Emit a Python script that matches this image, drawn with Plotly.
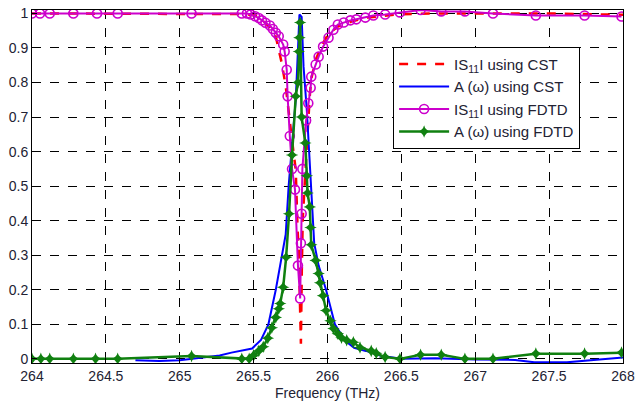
import plotly.graph_objects as go

# |S11| using CST (red dashed)
s11_cst_x = [264.0, 264.5, 265.0, 265.3, 265.45, 265.515, 265.556, 265.603, 265.65, 265.67, 265.69,
             265.717, 265.737, 265.758, 265.785, 265.79, 265.798, 265.805, 265.81, 265.816, 265.82,
             265.826, 265.832, 265.845, 265.855, 265.866, 265.88, 265.89, 265.92, 265.965, 266.005,
             266.07, 266.165, 266.27, 266.47, 266.7, 267.0, 267.5, 268.0]
s11_cst_y = [1.0, 1.0, 1.0, 1.0, 0.998, 0.994, 0.983, 0.962, 0.933, 0.895, 0.857,
             0.79, 0.71, 0.64, 0.547, 0.45, 0.37, 0.32, 0.197, 0.1, 0.044,
             0.25, 0.4, 0.5, 0.6, 0.66, 0.76, 0.81, 0.866, 0.91, 0.94,
             0.962, 0.977, 0.988, 0.997, 1.0, 1.0, 1.0, 0.996]

# A(omega) using CST (blue)
a_cst_x = [264.7, 264.86, 265.0, 265.13, 265.27, 265.35, 265.49, 265.55, 265.6, 265.65, 265.69,
           265.717, 265.737, 265.758, 265.785, 265.8, 265.81, 265.825, 265.838, 265.86, 265.872,
           265.886, 265.91, 265.94, 265.99, 266.05, 266.12, 266.18, 266.26, 266.36, 266.5, 266.73,
           267.0, 267.27, 267.4, 267.62, 267.85, 268.0]
a_cst_y = [-0.004, -0.006, -0.004, 0.003, 0.01, 0.018, 0.03, 0.055, 0.10, 0.2, 0.294,
           0.36, 0.5, 0.61, 0.75, 0.895, 0.997, 0.99, 0.846, 0.72, 0.625,
           0.5, 0.335, 0.27, 0.2, 0.1, 0.052, 0.032, 0.023, 0.009, 0.0, 0.002,
           -0.002, -0.003, -0.01, -0.01, -0.002, 0.004]

# |S11| using FDTD (magenta circles)
s11_fdtd_x = [264.0, 264.054, 264.12, 264.28, 264.44, 264.58, 265.08, 265.42, 265.455, 265.48,
              265.51, 265.535, 265.556, 265.58, 265.61, 265.63, 265.65, 265.67, 265.70, 265.71,
              265.724, 265.73, 265.745, 265.76, 265.78, 265.80, 265.815, 265.82, 265.825, 265.83,
              265.855, 265.87, 265.886, 265.89, 265.92, 265.94, 265.97, 266.007, 266.04, 266.07,
              266.11, 266.155, 266.195, 266.256, 266.31, 266.39, 266.49, 266.63, 266.77, 266.93,
              267.12, 267.41, 267.74, 267.99]
s11_fdtd_y = [1.0, 1.0, 1.0, 1.0, 1.0, 1.0, 1.0, 1.0, 1.0, 0.997,
              0.992, 0.987, 0.98, 0.973, 0.965, 0.955, 0.944, 0.934, 0.91, 0.89,
              0.837, 0.76, 0.645, 0.55, 0.49, 0.27, 0.175, 0.335, 0.42, 0.55,
              0.69, 0.74, 0.785, 0.817, 0.852, 0.875, 0.904, 0.93, 0.953, 0.968,
              0.974, 0.98, 0.983, 0.988, 0.994, 0.997, 1.003, 1.01, 1.006, 1.006,
              1.0, 0.994, 0.994, 0.991]

# A(omega) using FDTD (green stars)
a_fdtd_x = [264.0, 264.06, 264.12, 264.28, 264.43, 264.58, 265.08, 265.42, 265.47, 265.5,
            265.535, 265.565, 265.596, 265.623, 265.65, 265.67, 265.68, 265.70, 265.72, 265.74,
            265.76, 265.785, 265.80, 265.806, 265.81, 265.815, 265.825, 265.85, 265.86, 265.865,
            265.88, 265.885, 265.89, 265.92, 265.94, 265.95, 265.97, 265.99, 266.02, 266.04,
            266.07, 266.095, 266.13, 266.175, 266.22, 266.296, 266.33, 266.39, 266.49, 266.63,
            266.77, 266.93, 267.12, 267.41, 267.74, 267.99]
a_fdtd_y = [0.0, 0.0, 0.0, 0.0, 0.0, 0.0, 0.008, 0.0, 0.0, 0.01,
            0.023, 0.035, 0.06, 0.09, 0.12, 0.145, 0.16, 0.207, 0.294, 0.42,
            0.59, 0.76, 0.80, 0.89, 0.93, 0.974, 0.70, 0.625, 0.53, 0.48,
            0.44, 0.38, 0.33, 0.285, 0.247, 0.22, 0.183, 0.14, 0.11, 0.088,
            0.073, 0.061, 0.054, 0.048, 0.033, 0.023, 0.016, 0.005, 0.0, 0.012,
            0.012, 0.0, 0.0, 0.015, 0.015, 0.018]

x_ticks = [264, 264.5, 265, 265.5, 266, 266.5, 267, 267.5, 268]
x_tick_labels = ["264", "264.5", "265", "265.5", "266", "266.5", "267", "267.5", "268"]
y_ticks = [0, 0.1, 0.2, 0.3, 0.4, 0.5, 0.6, 0.7, 0.8, 0.9, 1]
y_tick_labels = ["0", "0.1", "0.2", "0.3", "0.4", "0.5", "0.6", "0.7", "0.8", "0.9", "1"]

fig = go.Figure()
fig.add_trace(go.Scatter(x=s11_cst_x, y=s11_cst_y, mode="lines",
                         name="IS<sub>11</sub>I using CST",
                         line=dict(color="#ff0000", width=2.5, dash="dash")))
fig.add_trace(go.Scatter(x=a_cst_x, y=a_cst_y, mode="lines",
                         name="A (\u03c9) using CST",
                         line=dict(color="#0000ff", width=2)))
fig.add_trace(go.Scatter(x=s11_fdtd_x, y=s11_fdtd_y, mode="lines+markers",
                         name="IS<sub>11</sub>I using FDTD",
                         line=dict(color="#cc00cc", width=2),
                         marker=dict(symbol="circle-open", size=9, color="#cc00cc",
                                     line=dict(width=1.6, color="#cc00cc"))))
fig.add_trace(go.Scatter(x=a_fdtd_x, y=a_fdtd_y, mode="lines+markers",
                         name="A (\u03c9) using FDTD",
                         line=dict(color="#108010", width=2.5),
                         marker=dict(symbol="star-diamond", size=9, color="#108010",
                                     line=dict(width=0))))

axis_common = dict(showline=True, linecolor="black", linewidth=1, mirror=True,
                   ticks="inside", ticklen=5, tickcolor="black", automargin=False,
                   ticklabeloverflow="allow",
                   showgrid=True, gridcolor="black", gridwidth=1, griddash="dash",
                   zeroline=False, tickfont=dict(family="Liberation Sans, Arial", size=14, color="#222233"))

fig.update_xaxes(range=[264, 268], tickvals=x_ticks, ticktext=x_tick_labels,
                 title=dict(text="Frequency (THz)", font=dict(family="Liberation Sans, Arial", size=14, color="#222233"), standoff=5),
                 **axis_common)
fig.update_yaxes(range=[-0.012, 1.01], tickvals=y_ticks, ticktext=y_tick_labels, **axis_common)

fig.update_layout(
    width=636, height=405,
    margin=dict(l=32, r=13, t=10, b=42),
    plot_bgcolor="white", paper_bgcolor="white",
    legend=dict(x=0.611, y=0.896, xanchor="left", yanchor="top",
                bgcolor="white", bordercolor="black", borderwidth=1,
                font=dict(family="Liberation Sans, Arial", size=15, color="#222233"),
                itemwidth=50, tracegroupgap=0),
    showlegend=True,
)

fig.write_html("out.html")
